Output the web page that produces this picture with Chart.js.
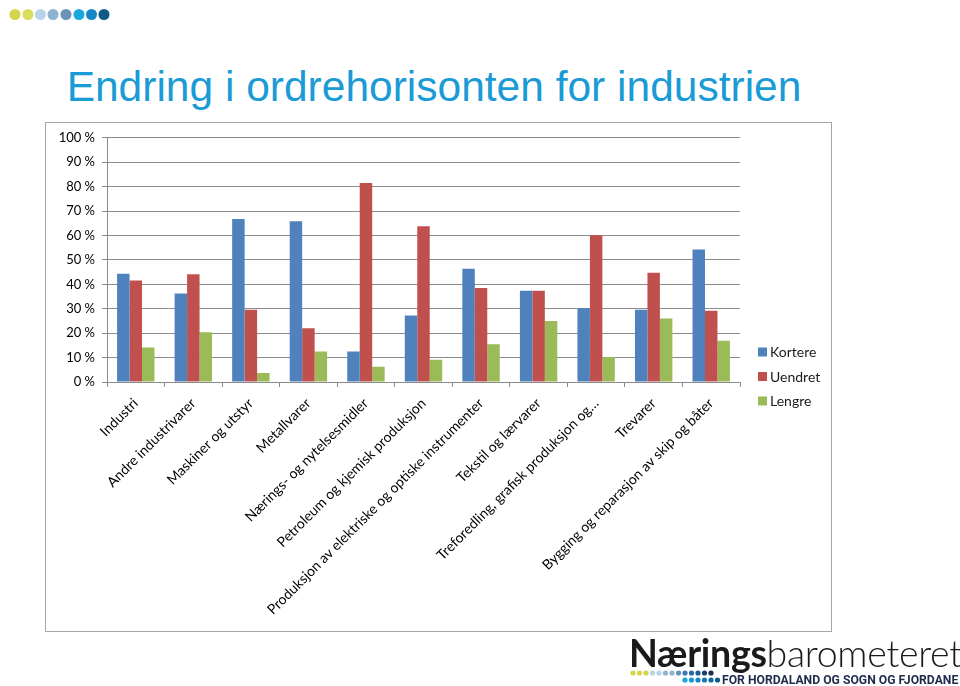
<!DOCTYPE html>
<html>
<head>
<meta charset="utf-8">
<script src="https://cdn.jsdelivr.net/npm/chart.js@4.4.1/dist/chart.umd.min.js"></script>
<style>
  html, body { margin: 0; padding: 0; background: #fff; }
  body { width: 960px; height: 686px; position: relative; overflow: hidden; font-family: 'Liberation Sans', Arial, sans-serif; }
  #dots { position: absolute; left: 0; top: 0; }
  #title { position: absolute; left: 0; width: 868px; top: 63px; text-align: center; font-size: 42.5px; color: #1a9bd6; white-space: nowrap; }
  #box { position: absolute; left: 45px; top: 122px; width: 785px; height: 508px; border: 1px solid #a6a6a6; }
  #box canvas { position: absolute; left: 0; top: 0; }
  #logo { position: absolute; left: 629px; top: 630px; font-family: 'Lato', 'DejaVu Sans', sans-serif; font-size: 37.5px; color: #1a1a1a; letter-spacing: -0.3px; white-space: nowrap; }
  #logo b { font-weight: 700; }
  #logo span { font-weight: 300; }
  #sub { position: absolute; left: 722px; top: 673px; font-family: 'Roboto', sans-serif; font-weight: 700; font-size: 12.2px; color: #1d2b4c; white-space: nowrap; }
  #logodots { position: absolute; left: 628px; top: 668px; }
</style>
</head>
<body>
<svg id="dots" width="120" height="30">
  <circle cx="15" cy="14.5" r="5.5" fill="#d3d64a"/>
  <circle cx="28" cy="14.5" r="5.5" fill="#d9dc5c"/>
  <circle cx="40.5" cy="14.5" r="5.5" fill="#b7d3e8"/>
  <circle cx="53" cy="14.5" r="5.5" fill="#8db4cf"/>
  <circle cx="66" cy="14.5" r="5.5" fill="#6a93bb"/>
  <circle cx="79" cy="14.5" r="5.5" fill="#1aa7dc"/>
  <circle cx="91.5" cy="14.5" r="5.5" fill="#1686c4"/>
  <circle cx="104" cy="14.5" r="5.5" fill="#0e5a87"/>
</svg>
<div id="title">Endring i ordrehorisonten for industrien</div>
<div id="box"><canvas id="chart" width="785" height="508"></canvas></div>
<div id="logo"><b>Nærings</b><span>barometeret</span></div>
<svg id="logodots" width="95" height="18">
  <circle cx="5" cy="5" r="2.6" fill="#d3d64a"/>
  <circle cx="11.5" cy="5" r="2.6" fill="#d3d64a"/>
  <circle cx="18" cy="5" r="2.6" fill="#d3d64a"/>
  <circle cx="24.5" cy="5" r="2.6" fill="#b7d3e8"/>
  <circle cx="31" cy="5" r="2.6" fill="#b7d3e8"/>
  <circle cx="37.5" cy="5" r="2.6" fill="#8db4cf"/>
  <circle cx="44" cy="5" r="2.6" fill="#8db4cf"/>
  <circle cx="50.5" cy="5" r="2.6" fill="#6a93bb"/>
  <circle cx="57" cy="5" r="2.6" fill="#3a7ab5"/>
  <circle cx="63.5" cy="5" r="2.6" fill="#2a6aa8"/>
  <circle cx="70" cy="5" r="2.6" fill="#1d5c96"/>
  <circle cx="76.5" cy="5" r="2.6" fill="#1d3f6e"/>
  <circle cx="83" cy="5" r="2.6" fill="#1d2b4c"/>
  <circle cx="57" cy="12" r="2.6" fill="#1aa7dc"/>
  <circle cx="63.5" cy="12" r="2.6" fill="#1a98d4"/>
  <circle cx="70" cy="12" r="2.6" fill="#1686c4"/>
  <circle cx="76.5" cy="12" r="2.6" fill="#1377b5"/>
  <circle cx="83" cy="12" r="2.6" fill="#0e6aa5"/>
  <circle cx="89.5" cy="12" r="2.6" fill="#0e5a87"/>
</svg>
<div id="sub">FOR HORDALAND OG SOGN OG FJORDANE</div>

<script>
const categories = [
    'Industri',
    'Andre industrivarer',
    'Maskiner og utstyr',
    'Metallvarer',
    'Nærings- og nytelsesmidler',
    'Petroleum og kjemisk produksjon',
    'Produksjon av elektriske og optiske instrumenter',
    'Tekstil og lærvarer',
    'Treforedling, grafisk produksjon og…',
    'Trevarer',
    'Bygging og reparasjon av skip og båter'
];
const seriesNames = ['Kortere', 'Uendret', 'Lengre'];
const kortere = [44.3, 36.2, 66.7, 65.8, 12.5, 27.2, 46.4, 37.4, 30.2, 29.6, 54.3];
const uendret = [41.6, 44.1, 29.6, 22.0, 81.5, 63.8, 38.5, 37.4, 60.1, 44.7, 29.2];
const lengre = [14.1, 20.4, 3.7, 12.5, 6.2, 9.1, 15.5, 25.0, 10.2, 26.0, 16.9];
const yTicks = [0, 10, 20, 30, 40, 50, 60, 70, 80, 90, 100];

const colors = ['#4f81bd', '#c0504d', '#9bbb59'];

// legend drawn by hand so it can sit low on the right, like the original
const sideLegend = {
    id: 'sideLegend',
    afterDraw(chart) {
        const ctx = chart.ctx;
        ctx.save();
        ctx.font = '14px Lato';
        ctx.textBaseline = 'middle';
        chart.data.datasets.forEach((ds, i) => {
            const y = 229 + i * 24.5;
            ctx.fillStyle = ds.backgroundColor;
            ctx.fillRect(712, y - 4.5, 9, 9);
            ctx.fillStyle = '#1a1a1a';
            ctx.fillText(ds.label, 724, y + 0.5);
        });
        ctx.restore();
    }
};

new Chart(document.getElementById('chart'), {
    type: 'bar',
    data: {
        labels: categories,
        datasets: [
            { label: seriesNames[0], data: kortere, backgroundColor: colors[0] },
            { label: seriesNames[1], data: uendret, backgroundColor: colors[1] },
            { label: seriesNames[2], data: lengre, backgroundColor: colors[2] }
        ]
    },
    options: {
        responsive: false,
        animation: false,
        layout: { padding: { top: 14, right: 91, left: 0, bottom: 0 } },
        datasets: { bar: { categoryPercentage: 0.65, barPercentage: 1.0 } },
        plugins: {
            legend: { display: false },
            tooltip: { enabled: false }
        },
        scales: {
            x: {
                afterFit: (scale) => { scale.height = 249; },
                grid: {
                    offset: true,
                    drawOnChartArea: false,
                    drawTicks: true,
                    tickLength: 5,
                    color: '#8c8c8c'
                },
                border: { color: '#8c8c8c' },
                ticks: {
                    autoSkip: false,
                    maxRotation: 45,
                    minRotation: 45,
                    padding: 8,
                    color: '#000',
                    font: { family: 'Lato', size: 14 }
                }
            },
            y: {
                min: 0,
                max: 100,
                afterFit: (scale) => { scale.width = 61; },
                afterBuildTicks: (scale) => { scale.ticks = yTicks.map(v => ({ value: v })); },
                grid: { color: '#8c8c8c', tickLength: 5 },
                border: { color: '#8c8c8c' },
                ticks: {
                    padding: 7,
                    color: '#000',
                    font: { family: 'Lato', size: 13 },
                    callback: (v) => v + ' %'
                }
            }
        }
    },
    plugins: [sideLegend]
});
</script>
</body>
</html>
